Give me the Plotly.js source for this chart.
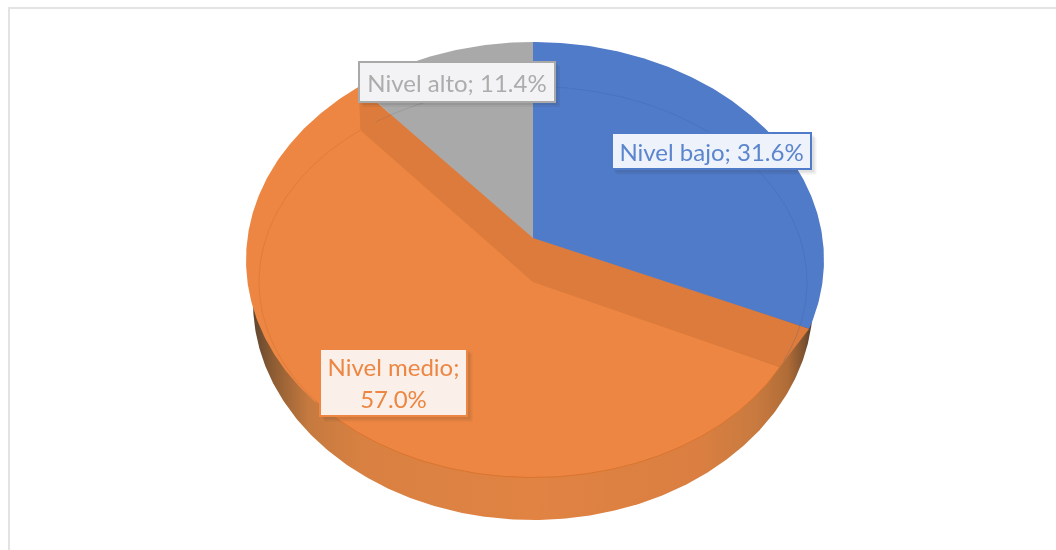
<!DOCTYPE html>
<html><head><meta charset="utf-8">
<script src="https://cdn.plot.ly/plotly-3.0.1.min.js"></script>
<style>html,body{margin:0;padding:0;background:#fff;overflow:hidden}#chart{width:1056px;height:550px;filter:blur(0.6px)}</style>
</head><body><div id="chart"></div>
<script>
const categories = ["Nivel bajo", "Nivel medio", "Nivel alto"];
const percents = [31.6, 57.0, 11.4];
const sliceColors = ["#507bc8", "#ec8642", "#a9a9a9"];
const labelBg = ["#eef2fa", "#fbf0e9", "#f3f3f5"];
const labelText = ["#5b85cd", "#ec8642", "#acacac"];

// projection of the tilted disc into the page (pixel-sized axes)
const K = 0.1009, APEX = [533, 238], RXR = 289.5, RXL = 285.5, RY = 215.8;
const APEX2 = [533, 282], IRX = 274, IRY = 195.5, INNER_SHIFT = 2;
const WALL = {cx: 533, cy: 302, rx: 280, ry: 218};
const rad = d => d * Math.PI / 180;
const outer = t => { const u = Math.sin(rad(t)), v = Math.cos(rad(t)), d = 1 + K * v;
  return [APEX[0] + (u > 0 ? RXR : RXL) * u / d, APEX[1] - RY * v / d]; };
const inner = t => [APEX2[0] + IRX * Math.sin(rad(t + INNER_SHIFT)), APEX2[1] - IRY * Math.cos(rad(t + INNER_SHIFT))];
const wall = t => [WALL.cx + WALL.rx * Math.sin(rad(t)), WALL.cy - WALL.ry * Math.cos(rad(t))];
const sweep = (f, a, b) => { const o = [], n = Math.max(2, Math.ceil((b - a) * 1.5));
  for (let i = 0; i <= n; i++) o.push(f(a + (b - a) * i / n)); return o; };
const blueEnd = percents[0] * 3.6, orangeEnd = (percents[0] + percents[1]) * 3.6;

const poly = (pts, color, extra) => Object.assign({type: "scatter", mode: "lines", x: pts.map(p => p[0]), y: pts.map(p => p[1]),
  fill: "toself", fillcolor: color, line: {width: 0}, hoverinfo: "skip", showlegend: false}, extra || {});
const stroke = (pts, color, w) => ({type: "scatter", mode: "lines", x: pts.map(p => p[0]), y: pts.map(p => p[1]),
  line: {color: color, width: w}, hoverinfo: "skip", showlegend: false});

const DARK = "#dc7b3b";
const traces = [
  poly(sweep(wall, 0, 360), "#dd8040", {fillgradient: {type: "horizontal", colorscale: [
    [0, "#5f4630"], [0.035, "#8d5c33"], [0.1, "#c67a3f"], [0.2, "#d98142"], [0.5, "#e08343"],
    [0.8, "#da7f41"], [0.9, "#c87a3f"], [0.955, "#b06c37"], [0.985, "#7c5230"], [1, "#4c3a2c"]]}}),
  poly([APEX].concat(sweep(outer, 225, orangeEnd)), sliceColors[1]),
  poly([APEX2].concat(sweep(inner, blueEnd, orangeEnd)), sliceColors[1]),
  poly([APEX, outer(blueEnd), inner(blueEnd), APEX2], DARK),
  poly([APEX, outer(orangeEnd), inner(orangeEnd), APEX2], DARK),
  poly([APEX].concat(sweep(outer, 0, blueEnd)), sliceColors[0]),
  poly([APEX].concat(sweep(outer, orangeEnd, 360)), sliceColors[2]),
  stroke(sweep(inner, blueEnd, 228), "#d9752f", 1),
  stroke(sweep(inner, 228, orangeEnd), "rgba(190,100,40,0.28)", 1),
  stroke(sweep(inner, 0, blueEnd - 2), "rgba(50,85,150,0.22)", 1),
  stroke(sweep(inner, orangeEnd + 4, 358), "rgba(90,90,90,0.18)", 1)
];

const boxes = [
  {cx: 711.5, cy: 151, w: 200, h: 37, lines: 1},
  {cx: 393.5, cy: 382.5, w: 148, h: 68, lines: 2},
  {cx: 456.5, cy: 81.5, w: 197, h: 41, lines: 1}
];
const rectShape = (b, d, a) => ({type: "rect", xref: "x", yref: "y", layer: "above",
  x0: b.cx - b.w / 2 + d, x1: b.cx + b.w / 2 + d, y0: b.cy - b.h / 2 + d, y1: b.cy + b.h / 2 + d,
  fillcolor: "rgba(40,40,40," + a + ")", line: {width: 0}});
const shapes = [
  {type: "line", xref: "x", yref: "y", x0: 9, x1: 9, y0: 8, y1: 550, line: {color: "#e3e3e3", width: 2}},
  {type: "line", xref: "x", yref: "y", x0: 8, x1: 1056, y0: 8, y1: 8, line: {color: "#e3e3e3", width: 2}}
];
boxes.forEach(b => { shapes.push(rectShape(b, 5, 0.06)); shapes.push(rectShape(b, 3, 0.09)); });

const annotations = categories.map((c, i) => {
  const b = boxes[i], v = percents[i].toFixed(1) + "%";
  return {xref: "x", yref: "y", x: b.cx, y: b.cy, xanchor: "center", yanchor: "middle", showarrow: false,
    text: b.lines === 2 ? c + ";<br>" + v : c + "; " + v, align: "center",
    width: b.w - 3, height: b.h - 3, valign: "middle", bgcolor: labelBg[i], bordercolor: sliceColors[i], borderwidth: 2, borderpad: 0,
    font: {family: "Lato, 'Open Sans', sans-serif", size: 24, color: labelText[i]}};
});

Plotly.newPlot("chart", traces, {
  width: 1056, height: 550, margin: {l: 0, r: 0, t: 0, b: 0}, paper_bgcolor: "#fff", plot_bgcolor: "#fff", showlegend: false,
  xaxis: {range: [0, 1056], visible: false, fixedrange: true},
  yaxis: {range: [550, 0], visible: false, fixedrange: true},
  shapes: shapes, annotations: annotations
}, {displayModeBar: false, staticPlot: true});
</script></body></html>
